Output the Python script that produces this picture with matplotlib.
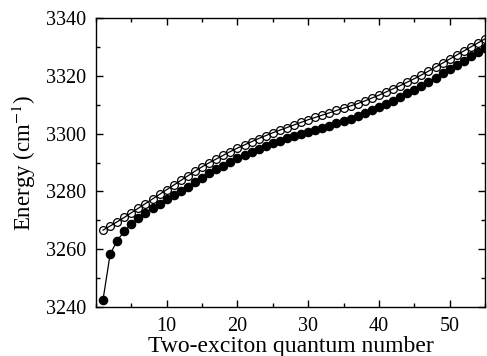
import matplotlib
matplotlib.use("Agg")
import matplotlib.pyplot as plt
from matplotlib.ticker import MultipleLocator

# two-exciton quantum number
n = list(range(1, 56))

# filled circles
filledEnergy = [3242.5, 3258.2, 3263.0, 3266.2, 3268.6, 3270.8, 3272.6, 3274.3, 3275.8, 3277.3,
                3278.8, 3280.2, 3281.6, 3283.2, 3284.8, 3286.2, 3287.6, 3288.9, 3290.2, 3291.4,
                3292.5, 3293.6, 3294.7, 3295.7, 3296.7, 3297.6, 3298.4, 3299.2, 3300.0, 3300.7,
                3301.4, 3302.1, 3302.8, 3303.5, 3304.3, 3305.1, 3306.0, 3307.0, 3308.0, 3309.1,
                3310.2, 3311.4, 3312.6, 3313.9, 3315.2, 3316.6, 3318.0, 3319.4, 3320.9, 3322.3,
                3323.8, 3325.2, 3326.7, 3328.2, 3329.7]

# open circles
openEnergy = [3266.6, 3268.0, 3269.5, 3271.0, 3272.6, 3274.2, 3275.8, 3277.4, 3279.0, 3280.6,
              3282.2, 3283.8, 3285.4, 3287.0, 3288.5, 3289.9, 3291.2, 3292.5, 3293.8, 3295.0,
              3296.1, 3297.2, 3298.3, 3299.3, 3300.3, 3301.2, 3302.1, 3303.0, 3303.9, 3304.8,
              3305.6, 3306.4, 3307.2, 3308.0, 3308.8, 3309.6, 3310.4, 3311.3, 3312.3, 3313.3,
              3314.4, 3315.5, 3316.6, 3317.8, 3319.0, 3320.3, 3321.6, 3323.0, 3324.4, 3325.8,
              3327.2, 3328.6, 3330.0, 3331.4, 3332.8]

plt.rcParams['font.family'] = ['Liberation Serif', 'DejaVu Serif']
plt.rcParams['mathtext.fontset'] = 'stix'

fig = plt.figure(figsize=(4.87, 3.56), dpi=100)
ax = fig.add_axes([0.197, 0.1376, 0.799, 0.8118])

ax.plot(n, openEnergy, color='black', lw=0.9, marker='o', markersize=5.6,
        markerfacecolor='none', markeredgecolor='black', markeredgewidth=0.9)
ax.plot(n, filledEnergy, color='black', lw=0.9, marker='o', markersize=5.9,
        markerfacecolor='black', markeredgecolor='black')

ax.set_xlim(0, 55)
ax.set_ylim(3240, 3340)
ax.xaxis.set_major_locator(MultipleLocator(10))
ax.xaxis.set_minor_locator(MultipleLocator(5))
ax.yaxis.set_major_locator(MultipleLocator(20))
ax.yaxis.set_minor_locator(MultipleLocator(10))
ax.tick_params(which='both', direction='in', top=True, right=True, width=1.0, labelsize=14.5)
ax.tick_params(which='major', length=5, pad=7)
ax.tick_params(which='minor', length=3)
ax.set_xticks([10, 20, 30, 40, 50])
for s in ax.spines.values():
    s.set_linewidth(1.0)

ax.set_xlabel("Two-exciton quantum number", fontsize=17, labelpad=0)
ax.set_ylabel("Energy (cm$^{-1}$)", fontsize=16.5, labelpad=6)

fig.savefig("out.png", dpi=100)
